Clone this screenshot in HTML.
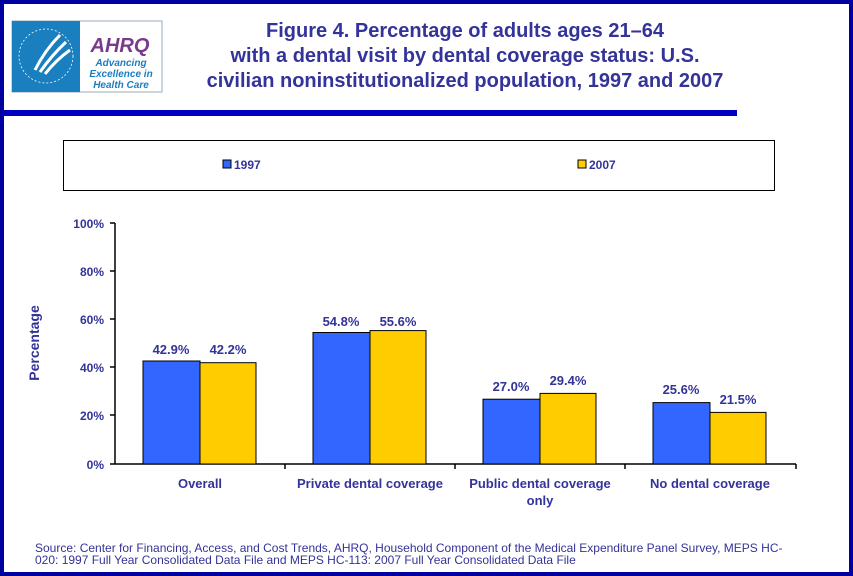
<!DOCTYPE html>
<html><head><style>
body{margin:0;background:#fff}
svg{display:block}
text{font-family:"Liberation Sans",Arial,sans-serif;fill:#333399;font-weight:bold}
</style></head><body>
<svg width="853" height="576" xmlns="http://www.w3.org/2000/svg">
<rect x="2" y="2" width="849" height="572" fill="#fff" stroke="#0000a0" stroke-width="4"/>
<!-- logo -->
<rect x="12" y="21" width="150" height="71" fill="#fff" stroke="#9ab" stroke-width="1"/>
<rect x="12" y="21" width="68" height="71" fill="#1a7fbf"/>
<path d="M35 70 Q45 50 60 35 M40 72 Q52 55 66 42 M45 74 Q56 60 70 50" stroke="#fff" stroke-width="3" fill="none"/>
<circle cx="46" cy="56" r="27" fill="none" stroke="#fff" stroke-width="0.8" stroke-dasharray="2 2"/>
<text x="120" y="52" text-anchor="middle" font-size="20" font-style="italic" style="fill:#7a3a8c">AHRQ</text>
<text x="121" y="66" text-anchor="middle" font-size="10" font-style="italic" style="fill:#1a7fbf">Advancing</text>
<text x="121" y="77" text-anchor="middle" font-size="10" font-style="italic" style="fill:#1a7fbf">Excellence in</text>
<text x="121" y="88" text-anchor="middle" font-size="10" font-style="italic" style="fill:#1a7fbf">Health Care</text>
<!-- title -->
<text x="465" y="37" text-anchor="middle" font-size="20">Figure 4. Percentage of adults ages 21–64</text>
<text x="465" y="62" text-anchor="middle" font-size="20">with a dental visit by dental coverage status: U.S.</text>
<text x="465" y="87" text-anchor="middle" font-size="20">civilian noninstitutionalized population, 1997 and 2007</text>
<rect x="4" y="110" width="733" height="6" fill="#0000c0"/>
<!-- legend -->
<rect x="63.5" y="140.5" width="711" height="50" fill="#fff" stroke="#000"/>
<rect x="223" y="160" width="8" height="8" fill="#3366ff" stroke="#000"/>
<text x="234" y="169" font-size="12">1997</text>
<rect x="578" y="160" width="8" height="8" fill="#ffcc00" stroke="#000"/>
<text x="589" y="169" font-size="12">2007</text>
<!-- axes -->
<g stroke="#000" stroke-width="1.5">
<line x1="115" y1="223" x2="115" y2="464"/>
<line x1="115" y1="464" x2="796" y2="464"/>
<line x1="110" y1="223" x2="115" y2="223"/><line x1="110" y1="271" x2="115" y2="271"/>
<line x1="110" y1="319" x2="115" y2="319"/><line x1="110" y1="367" x2="115" y2="367"/>
<line x1="110" y1="415" x2="115" y2="415"/><line x1="110" y1="464" x2="115" y2="464"/>
<line x1="285" y1="464" x2="285" y2="469"/><line x1="455" y1="464" x2="455" y2="469"/>
<line x1="625" y1="464" x2="625" y2="469"/><line x1="796" y1="464" x2="796" y2="469"/>
</g>
<g font-size="12" text-anchor="end">
<text x="104" y="228">100%</text><text x="104" y="276">80%</text><text x="104" y="324">60%</text>
<text x="104" y="372">40%</text><text x="104" y="420">20%</text><text x="104" y="469">0%</text>
</g>
<text transform="translate(39,343) rotate(-90)" text-anchor="middle" font-size="14">Percentage</text>
<!-- bars -->
<g stroke="#000" stroke-width="1">
<rect x="143" y="361" width="57" height="103" fill="#3366ff"/>
<rect x="200" y="362.7" width="56" height="101.3" fill="#ffcc00"/>
<rect x="313" y="332.5" width="57" height="131.5" fill="#3366ff"/>
<rect x="370" y="330.6" width="56" height="133.4" fill="#ffcc00"/>
<rect x="483" y="399.2" width="57" height="64.8" fill="#3366ff"/>
<rect x="540" y="393.4" width="56" height="70.6" fill="#ffcc00"/>
<rect x="653" y="402.6" width="57" height="61.4" fill="#3366ff"/>
<rect x="710" y="412.4" width="56" height="51.6" fill="#ffcc00"/>
</g>
<g font-size="13" text-anchor="middle">
<text x="171" y="354">42.9%</text><text x="228" y="354">42.2%</text>
<text x="341" y="326">54.8%</text><text x="398" y="326">55.6%</text>
<text x="511" y="391">27.0%</text><text x="568" y="385">29.4%</text>
<text x="681" y="394">25.6%</text><text x="738" y="404">21.5%</text>
</g>
<g font-size="13" text-anchor="middle">
<text x="200" y="488">Overall</text>
<text x="370" y="488">Private dental coverage</text>
<text x="540" y="488">Public dental coverage</text>
<text x="540" y="505">only</text>
<text x="710" y="488">No dental coverage</text>
</g>
<g font-size="12">
<text x="35" y="552" style="font-weight:normal">Source: Center for Financing, Access, and Cost Trends, AHRQ, Household Component of the Medical Expenditure Panel Survey, MEPS HC-</text>
<text x="35" y="564" style="font-weight:normal">020: 1997 Full Year Consolidated Data File and MEPS HC-113: 2007 Full Year Consolidated Data File</text>
</g>
</svg>
</body></html>
